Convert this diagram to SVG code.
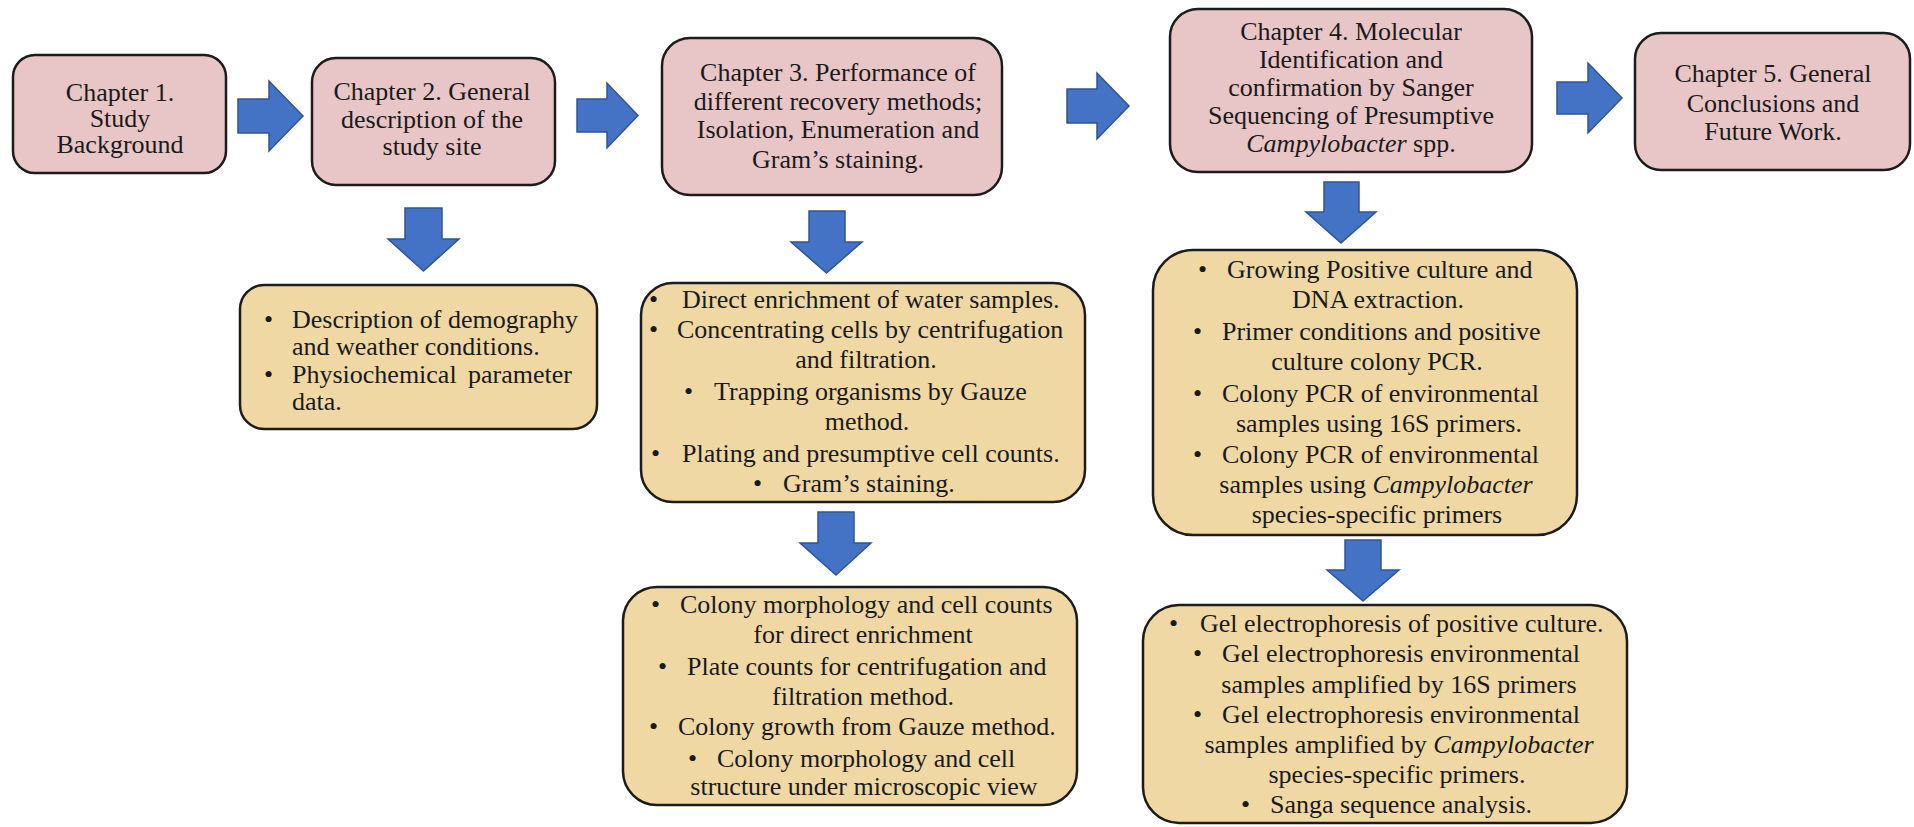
<svg xmlns="http://www.w3.org/2000/svg" width="1914" height="827" viewBox="0 0 1914 827" font-family="Liberation Serif, Tinos, DejaVu Serif, serif">
<style>
.pink{fill:#e8c5c7;stroke:#1c1c1c;stroke-width:2.5}
.tan{fill:#efd8a3;stroke:#1c1c1c;stroke-width:2.5}
.arr{fill:#4472c4;stroke:#2f5597;stroke-width:1.5}
.t{font-family:'Liberation Serif','Tinos','DejaVu Serif',serif;font-size:26px;fill:#1a1a1a}
.c{text-anchor:middle}
.e{text-anchor:end}
.i{font-style:italic}
</style>
<rect width="1914" height="827" fill="#ffffff"/>
<g id="connectors">
<path class="arr" d="M238,99 H269 V81 L303,116 L269,151 V133 H238 Z"/>
<path class="arr" d="M577,99 H607 V83 L638,115.5 L607,148 V132 H577 Z"/>
<path class="arr" d="M1067,89 H1097 V73 L1129,106 L1097,139 V123 H1067 Z"/>
<path class="arr" d="M1557,82 H1588 V63 L1622,98 L1588,133 V114 H1557 Z"/>
<path class="arr" d="M405,208 H442 V239 H459 L423.5,271 L388,239 H405 Z"/>
<path class="arr" d="M809,211 H845 V242 H862 L826.5,273 L791,242 H809 Z"/>
<path class="arr" d="M1324,182 H1359 V212 H1376 L1341,243 L1306,212 H1324 Z"/>
<path class="arr" d="M818,512 H854 V543 H871 L836,575 L800,543 H818 Z"/>
<path class="arr" d="M1345,540 H1381 V570 H1399 L1363,601 L1327,570 H1345 Z"/>
</g>
<g id="ch1" class="t">
<rect class="pink" x="13" y="55" width="213" height="118" rx="22"/>
<text class="c" x="120" y="101">Chapter 1.</text>
<text class="c" x="120" y="127">Study</text>
<text class="c" x="120" y="153">Background</text>
</g>
<g id="ch2" class="t">
<rect class="pink" x="312" y="58" width="243" height="127" rx="24"/>
<text class="c" x="432" y="100">Chapter 2. General</text>
<text class="c" x="432" y="128">description of the</text>
<text class="c" x="432" y="155">study site</text>
</g>
<g id="ch3" class="t">
<rect class="pink" x="662" y="38" width="340" height="157" rx="28"/>
<text class="c" x="838" y="81">Chapter 3. Performance of</text>
<text class="c" x="838" y="110">different recovery methods;</text>
<text class="c" x="838" y="138">Isolation, Enumeration and</text>
<text class="c" x="838" y="168">Gram’s staining.</text>
</g>
<g id="ch4" class="t">
<rect class="pink" x="1170" y="9" width="362" height="163" rx="28"/>
<text class="c" x="1351" y="40">Chapter 4. Molecular</text>
<text class="c" x="1351" y="68">Identification and</text>
<text class="c" x="1351" y="96">confirmation by Sanger</text>
<text class="c" x="1351" y="124">Sequencing of Presumptive</text>
<text class="c" x="1351" y="152"><tspan class="i">Campylobacter</tspan> spp.</text>
</g>
<g id="ch5" class="t">
<rect class="pink" x="1635" y="33" width="275" height="137" rx="26"/>
<text class="c" x="1773" y="82">Chapter 5. General</text>
<text class="c" x="1773" y="112">Conclusions and</text>
<text class="c" x="1773" y="140">Future Work.</text>
</g>
<g id="ch2-details" class="t">
<rect class="tan" x="240" y="285" width="357" height="144" rx="24"/>
<text x="264" y="328">•</text><text x="292" y="328">Description of demography</text>
<text x="292" y="355">and weather conditions.</text>
<text x="264" y="383">•</text><text x="292" y="383">Physiochemical</text><text class="e" x="572" y="383">parameter</text>
<text x="292" y="410">data.</text>
</g>
<g id="ch3-methods" class="t">
<rect class="tan" x="641" y="283" width="444" height="219" rx="32"/>
<text x="649" y="308">•</text><text x="682" y="308">Direct enrichment of water samples.</text>
<text x="649" y="338">•</text><text x="677" y="338">Concentrating cells by centrifugation</text>
<text class="c" x="866" y="368">and filtration.</text>
<text x="684" y="400">•</text><text x="714" y="400">Trapping organisms by Gauze</text>
<text class="c" x="867" y="430">method.</text>
<text x="651" y="462">•</text><text x="682" y="462">Plating and presumptive cell counts.</text>
<text x="753" y="492">•</text><text x="783" y="492">Gram’s staining.</text>
</g>
<g id="ch3-results" class="t">
<rect class="tan" x="623" y="587" width="454" height="218" rx="34"/>
<text x="651" y="613">•</text><text x="680" y="613">Colony morphology and cell counts</text>
<text class="c" x="863" y="643">for direct enrichment</text>
<text x="658" y="675">•</text><text x="687" y="675">Plate counts for centrifugation and</text>
<text class="c" x="863" y="705">filtration method.</text>
<text x="649" y="735">•</text><text x="678" y="735">Colony growth from Gauze method.</text>
<text x="688" y="767">•</text><text x="717" y="767">Colony morphology and cell</text>
<text class="c" x="864" y="795">structure under microscopic view</text>
</g>
<g id="ch4-methods" class="t">
<rect class="tan" x="1153" y="250" width="424" height="285" rx="40"/>
<text x="1198" y="278">•</text><text x="1227" y="278">Growing Positive culture and</text>
<text class="c" x="1378" y="308">DNA extraction.</text>
<text x="1193" y="340">•</text><text x="1222" y="340">Primer conditions and positive</text>
<text class="c" x="1377" y="370">culture colony PCR.</text>
<text x="1193" y="402">•</text><text x="1222" y="402">Colony PCR of environmental</text>
<text class="c" x="1379" y="432">samples using 16S primers.</text>
<text x="1193" y="463">•</text><text x="1222" y="463">Colony PCR of environmental</text>
<text class="c" x="1376" y="493">samples using <tspan class="i">Campylobacter</tspan></text>
<text class="c" x="1377" y="523">species-specific primers</text>
</g>
<g id="ch4-results" class="t">
<rect class="tan" x="1143" y="605" width="484" height="218" rx="36"/>
<text x="1169" y="632">•</text><text x="1200" y="632">Gel electrophoresis of positive culture.</text>
<text x="1193" y="662">•</text><text x="1222" y="662">Gel electrophoresis environmental</text>
<text class="c" x="1399" y="693">samples amplified by 16S primers</text>
<text x="1193" y="723">•</text><text x="1222" y="723">Gel electrophoresis environmental</text>
<text class="c" x="1399" y="753">samples amplified by <tspan class="i">Campylobacter</tspan></text>
<text class="c" x="1397" y="783">species-specific primers.</text>
<text x="1241" y="813">•</text><text x="1270" y="813">Sanga sequence analysis.</text>
</g>
</svg>
